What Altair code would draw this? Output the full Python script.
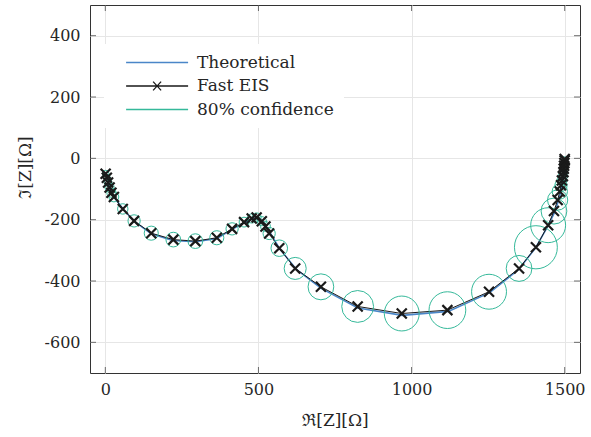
import altair as alt
import pandas as pd

# ---------------- data ----------------
fast_re = [1, 5, 9, 14, 20, 28, 57, 94, 150, 222, 294, 364, 414, 453, 478, 494, 511, 523, 535, 568, 620,
           704, 824, 968, 1117, 1253, 1351, 1406, 1446, 1465, 1477, 1484, 1488, 1491, 1494, 1496, 1497,
           1498, 1499, 1500, 1500]
fast_im = [-50, -63, -79, -95, -112, -126, -165, -204, -244, -265, -270, -259, -230, -208, -196, -193, -205,
           -222, -245, -293, -359, -419, -483, -506, -495, -435, -359, -290, -218, -172, -136, -108, -88,
           -72, -58, -45, -34, -24, -15, -7, -2]
# 80% confidence radius (Ω)
conf_r = [11, 11, 13, 15, 15, 16, 17, 20, 23, 24, 24, 23, 20, 16, 15, 15, 15, 16, 20, 27, 36,
          42, 52, 57, 60, 57, 42, 70, 57, 42, 33, 25, 20, 16, 15, 13, 11, 10, 10, 8, 7]

theo_re = [0, 5, 10, 20, 35, 60, 95, 150, 220, 295, 365, 415, 455, 482, 500, 515, 540, 570, 625, 705,
           825, 970, 1120, 1255, 1350, 1405, 1445, 1470, 1485, 1494, 1498, 1500]
theo_im = [-46, -62, -80, -110, -135, -168, -206, -246, -268, -272, -261, -231, -209, -197, -195, -206,
           -246, -296, -363, -424, -488, -512, -499, -438, -362, -292, -221, -170, -118, -70, -30, 0]

x_ticks = [0, 500, 1000, 1500]
y_ticks = [-600, -400, -200, 0, 200, 400]
x_domain = [-50, 1550]
y_domain = [-700, 500]

series = ["Theoretical", "Fast EIS", "80% confidence"]
colors = ["#4a86c8", "#1a1a1a", "#35b99a"]

# ---------------- layout ----------------
W, H = 490, 368
px_per_ohm = W / (x_domain[1] - x_domain[0])
FONT = "DejaVu Serif"
FS_TICK = 16
FS_TEXT = 17
FRAME = "#333333"
TEXT_C = "#262626"

CROSS = "M-1,-1L1,1M-1,1L1,-1"
LEG_LINE = "M1.8,0H32.8"
LEG_CROSS = "M1.8,0H32.8M15.3,-2.2L19.3,2.2M15.3,2.2L19.3,-2.2"

fast = pd.DataFrame({"re": fast_re, "im": fast_im, "r": conf_r, "k": list(range(len(fast_re)))})
theo = pd.DataFrame({"re": theo_re, "im": theo_im, "k": list(range(len(theo_re)))})
legend_df = pd.DataFrame({"series": series})
xt_df = pd.DataFrame({"re": x_ticks * 2, "im": [y_domain[0]] * len(x_ticks) + [y_domain[1]] * len(x_ticks)})
yt_df = pd.DataFrame({"im": y_ticks * 2, "re": [x_domain[0]] * len(y_ticks) + [x_domain[1]] * len(y_ticks)})

xs = alt.Scale(domain=x_domain, nice=False, zero=False)
ys = alt.Scale(domain=y_domain, nice=False, zero=False)

X = alt.X("re:Q", scale=xs, axis=alt.Axis(
    values=x_ticks, title="ℜ[Z][Ω]", grid=True, ticks=False, domain=False,
    labelPadding=8, titlePadding=15, labelExpr="'' + datum.value"))
Y = alt.Y("im:Q", scale=ys, axis=alt.Axis(
    values=y_ticks, title="ℑ[Z][Ω]", grid=True, ticks=False, domain=False,
    labelPadding=10, titleX=-56, titleY=162, labelExpr="'' + datum.value"))

theo_line = alt.Chart(theo).mark_line(color=colors[0], strokeWidth=1.6).encode(x=X, y=Y, order="k:Q")
fast_line = alt.Chart(fast).mark_line(color=colors[1], strokeWidth=1).encode(x=X, y=Y, order="k:Q")
circles = alt.Chart(fast).transform_calculate(
    sz=f"pow(2 * datum.r * {px_per_ohm}, 2)"
).mark_point(shape="circle", filled=False, color=colors[2], strokeWidth=1, opacity=1).encode(
    x=X, y=Y, size=alt.Size("sz:Q", scale=None, legend=None))
crosses = alt.Chart(fast).mark_point(shape=CROSS, filled=False, color=colors[1], strokeWidth=2.2,
                                     size=100, opacity=1).encode(x=X, y=Y)

xticks_layer = alt.Chart(xt_df).mark_tick(orient="vertical", size=12, thickness=1, color=FRAME,
                                          clip=True).encode(x=X, y=Y)
yticks_layer = alt.Chart(yt_df).mark_tick(orient="horizontal", size=12, thickness=1, color=FRAME,
                                          clip=True).encode(x=X, y=Y)

leg = alt.Legend(title=None, orient="none", legendX=14, legendY=39, padding=10,
                 fillColor="white", symbolSize=16, symbolStrokeWidth=1.3, symbolOpacity=1,
                 symbolFillColor="transparent", labelOffset=66, rowPadding=5.5,
                 labelFont=FONT, labelFontSize=FS_TEXT, labelColor=TEXT_C)
legend_layer = alt.Chart(legend_df).mark_point(filled=False, opacity=0).encode(
    color=alt.Color("series:N", scale=alt.Scale(domain=series, range=colors), legend=leg),
    shape=alt.Shape("series:N", scale=alt.Scale(domain=series, range=[LEG_LINE, LEG_CROSS, LEG_LINE]),
                    legend=leg),
)

chart = alt.layer(
    theo_line, fast_line, circles, crosses, xticks_layer, yticks_layer, legend_layer
).properties(
    width=W, height=H,
    autosize=alt.AutoSizeParams(type="none"),
    padding={"left": 90, "top": 5, "right": 11, "bottom": 64},
    background="white",
).configure_view(
    stroke=FRAME, strokeWidth=1
).configure_axis(
    labelFont=FONT, labelFontSize=FS_TICK, labelColor=TEXT_C,
    titleFont=FONT, titleFontSize=FS_TEXT, titleColor=TEXT_C, titleFontWeight="normal",
    gridColor="#e6e6e6", gridWidth=1,
)

chart.save("out.html", embed_options={"renderer": "svg", "actions": False})
